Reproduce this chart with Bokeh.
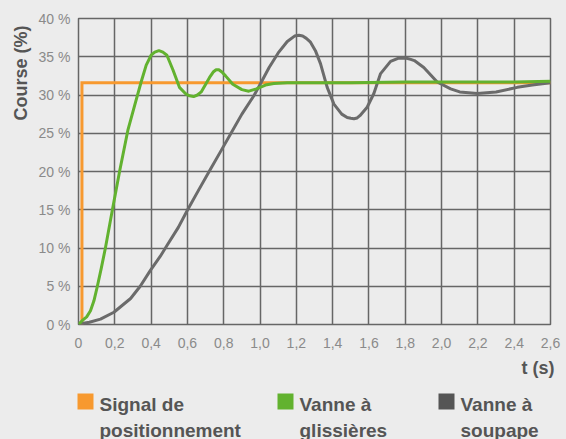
from bokeh.plotting import figure
from bokeh.layouts import column
from bokeh.models import Range1d, FixedTicker, Title
from bokeh.core.properties import value
from bokeh.embed import file_html
from bokeh.resources import INLINE

# ---------------- data ----------------
x_ticks = [0, 0.2, 0.4, 0.6, 0.8, 1.0, 1.2, 1.4, 1.6, 1.8, 2.0, 2.2, 2.4, 2.6]
x_tick_labels = ["0", "0,2", "0,4", "0,6", "0,8", "1,0", "1,2", "1,4", "1,6", "1,8",
                 "2,0", "2,2", "2,4", "2,6"]
y_ticks = [0, 5, 10, 15, 20, 25, 30, 35, 40]
y_tick_labels = ["0 %", "5 %", "10 %", "15 %", "20 %", "25 %", "30 %", "35 %", "40 %"]

signal_t = [0.019, 0.019, 2.6]
signal_v = [0.0, 31.6, 31.6]

slide_t = [0, 0.02, 0.045, 0.066, 0.085, 0.103, 0.125, 0.149, 0.186, 0.227, 0.272, 0.309,
           0.345, 0.373, 0.40, 0.42, 0.443, 0.465, 0.487, 0.52, 0.556, 0.593, 0.612, 0.634,
           0.655, 0.676, 0.722, 0.742, 0.758, 0.773, 0.79, 0.81, 0.85, 0.9, 0.938, 0.98, 1.03,
           1.076, 1.15, 1.3, 1.5, 1.8, 2.1, 2.4, 2.6]
slide_v = [0, 0.5, 1.0, 1.8, 3.1, 4.9, 7.3, 10.1, 14.9, 20.1, 25.4, 28.6,
           31.7, 33.9, 35.2, 35.6, 35.8, 35.6, 35.2, 33.3, 31.0, 30.1, 29.9, 29.8,
           30.0, 30.4, 32.3, 33.0, 33.3, 33.3, 33.0, 32.5, 31.4, 30.7, 30.5, 30.8, 31.3,
           31.5, 31.6, 31.6, 31.6, 31.7, 31.7, 31.7, 31.8]

globe_t = [0, 0.011, 0.06, 0.121, 0.195, 0.287, 0.34, 0.397, 0.45, 0.489, 0.55, 0.599, 0.66,
           0.722, 0.78, 0.84, 0.9, 0.966, 1.003, 1.05, 1.1, 1.15, 1.19, 1.214, 1.235, 1.255,
           1.278, 1.305, 1.333, 1.37, 1.407, 1.45, 1.48, 1.5, 1.517, 1.535, 1.55, 1.59, 1.627,
           1.664, 1.719, 1.76, 1.785, 1.807, 1.83, 1.85, 1.902, 1.976, 2.05, 2.1, 2.197, 2.3,
           2.417, 2.5, 2.6]
globe_v = [0, 0.1, 0.3, 0.7, 1.6, 3.4, 5.0, 7.1, 8.9, 10.4, 12.7, 14.9, 17.5,
           20.1, 22.5, 25.0, 27.5, 29.9, 31.5, 33.6, 35.5, 37.0, 37.7, 37.8, 37.7, 37.4,
           36.9, 35.8, 34.1, 31.0, 28.8, 27.5, 27.05, 26.95, 26.9, 27.0, 27.3, 28.4, 30.2,
           32.8, 34.4, 34.8, 34.85, 34.8, 34.65, 34.5, 33.6, 31.7, 30.8, 30.4, 30.2, 30.4,
           31.0, 31.3, 31.6]

legend_lines = [["Signal de", "positionnement"], ["Vanne à", "glissières"], ["Vanne à", "soupape"]]
legend_colors = ["#f7992f", "#62b22f", "#555555"]
line_colors = ["#f7992f", "#62b22f", "#6b6b6b"]

# ---------------- styles ----------------
BG = "#ececec"
GRID = "#666666"
FONT = "Liberation Sans"
DARK = "#555555"

W = 566
H1 = 383
H2 = 439 - H1

p = figure(width=W, height=H1, output_backend="svg", toolbar_location=None,
           x_range=Range1d(0, 2.6), y_range=Range1d(0, 40),
           min_border_left=78, min_border_right=16, min_border_top=18,
           min_border_bottom=H1 - 324)
p.frame_align = False
p.background_fill_color = BG
p.border_fill_color = BG
p.outline_line_color = GRID
p.outline_line_width = 1.5

p.xaxis.ticker = FixedTicker(ticks=x_ticks)
p.yaxis.ticker = FixedTicker(ticks=y_ticks)
p.xaxis.major_label_overrides = {t: l for t, l in zip(x_ticks, x_tick_labels)}
p.yaxis.major_label_overrides = {t: l for t, l in zip(y_ticks, y_tick_labels)}
for ax in (p.xaxis, p.yaxis):
    ax.axis_line_color = None
    ax.major_tick_line_color = None
    ax.minor_tick_line_color = None
    ax.major_tick_out = 0
    ax.major_tick_in = 0
    ax.major_label_text_font = FONT
    ax.major_label_text_font_size = "14px"
    ax.major_label_text_color = "#8a8a8a"
p.xaxis.major_label_standoff = 13
p.yaxis.major_label_standoff = 8

p.xgrid.ticker = FixedTicker(ticks=x_ticks)
p.ygrid.ticker = FixedTicker(ticks=y_ticks)
p.grid.grid_line_color = GRID
p.grid.grid_line_width = 1.5

p.line(signal_t, signal_v, line_color=line_colors[0], line_width=3, line_join="miter")
p.line(globe_t, globe_v, line_color=line_colors[2], line_width=3, line_join="round")
p.line(slide_t, slide_v, line_color=line_colors[1], line_width=3, line_join="round")

p.add_layout(Title(text="Course (%)", align="right", offset=7, text_font=FONT,
                   text_font_style="bold", text_font_size="18px", text_color=DARK), "left")
p.add_layout(Title(text="t (s)", align="right", offset=-4, standoff=11, text_font=FONT,
                   text_font_style="bold", text_font_size="18px", text_color=DARK), "below")

# ---------------- legend panel ----------------
q = figure(width=W, height=H2, output_backend="svg", toolbar_location=None,
           x_range=Range1d(0, W), y_range=Range1d(H2, 0),
           x_axis_location=None, y_axis_location=None,
           min_border_left=0, min_border_right=0, min_border_top=0, min_border_bottom=0)
q.frame_align = False
q.background_fill_color = BG
q.border_fill_color = BG
q.outline_line_color = None
q.grid.visible = False

sq_x = [77, 277, 438]
q.quad(left=sq_x, right=[v + 16 for v in sq_x], top=[10] * 3, bottom=[26] * 3,
       fill_color=legend_colors, line_color=None)
q.text(x=[v + 22 for v in sq_x], y=[21] * 3, text=[l[0] for l in legend_lines],
       text_baseline="alphabetic", text_font=value(FONT), text_font_style="bold",
       text_font_size="19px", text_color=DARK)
q.text(x=[v + 22 for v in sq_x], y=[47] * 3, text=[l[1] for l in legend_lines],
       text_baseline="alphabetic", text_font=value(FONT), text_font_style="bold",
       text_font_size="19px", text_color=DARK)

layout = column(p, q, spacing=0, styles={"background-color": BG})
open("out.html", "w").write(file_html(layout, INLINE))
